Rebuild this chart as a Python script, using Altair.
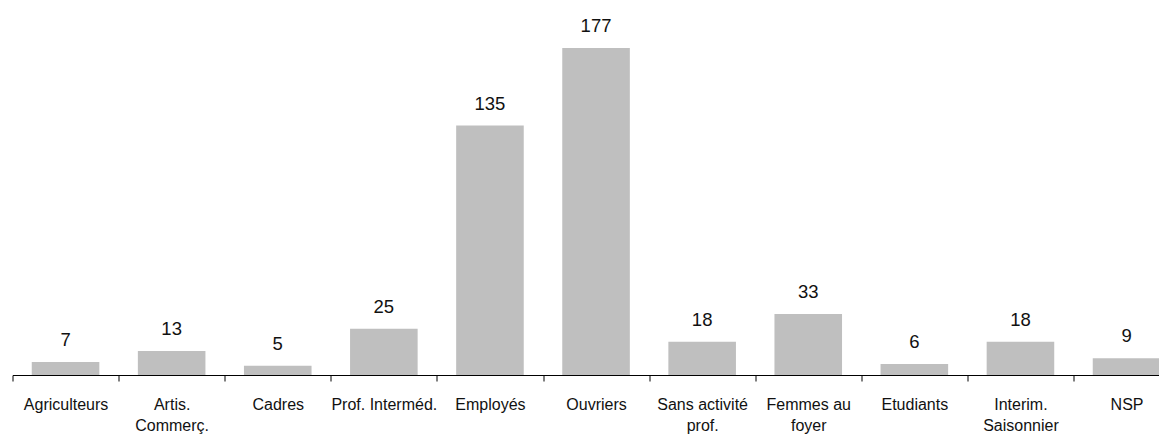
import altair as alt
import pandas as pd

categories = [
    "Agriculteurs",
    "Artis.\nCommerç.",
    "Cadres",
    "Prof. Interméd.",
    "Employés",
    "Ouvriers",
    "Sans activité\nprof.",
    "Femmes au\nfoyer",
    "Etudiants",
    "Interim.\nSaisonnier",
    "NSP",
]
values = [7, 13, 5, 25, 135, 177, 18, 33, 6, 18, 9]

df = pd.DataFrame({"cat": categories, "val": values})

FONT = "Liberation Sans"
STEP = 106.1
N = len(categories)
P_IN = 0.363

x = alt.X(
    "cat:N",
    sort=categories,
    title=None,
    scale=alt.Scale(range=[0, STEP * N], paddingInner=P_IN, paddingOuter=P_IN / 2),
    axis=alt.Axis(
        labelExpr="split(datum.label, '\\n')",
        labelAngle=0,
        labelFont=FONT,
        labelFontSize=16,
        labelColor="#111111",
        labelLineHeight=21,
        labelBaseline="alphabetic",
        labelPadding=28,
        labelOffset=STEP / 2,
        tickOffset=-STEP / 2,
        tickSize=6,
        tickColor="#000000",
        domainColor="#000000",
        domainWidth=1,
        tickWidth=1,
        grid=False,
        labelOverlap=False,
        labelBound=False,
        labelFlush=False,
    ),
)
y = alt.Y("val:Q", axis=None, scale=alt.Scale(domain=[0, 198.65], nice=False, zero=True))

bars = alt.Chart(df).mark_bar(color="#BFBFBF").encode(x=x, y=y)
labels = alt.Chart(df).mark_text(
    font=FONT, fontSize=18.5, baseline="alphabetic", dy=-16, color="#111111"
).encode(x=x, y=y, text="val:Q")

chart = (
    alt.layer(bars, labels)
    .properties(
        width=1146.5,
        height=367,
        autosize=alt.AutoSizeParams(type="none"),
        padding={"left": 4.5, "top": 0, "right": 0, "bottom": 60},
    )
    .configure_view(stroke=None)
)

chart.save("out.html", embed_options={"renderer": "svg", "actions": False})
